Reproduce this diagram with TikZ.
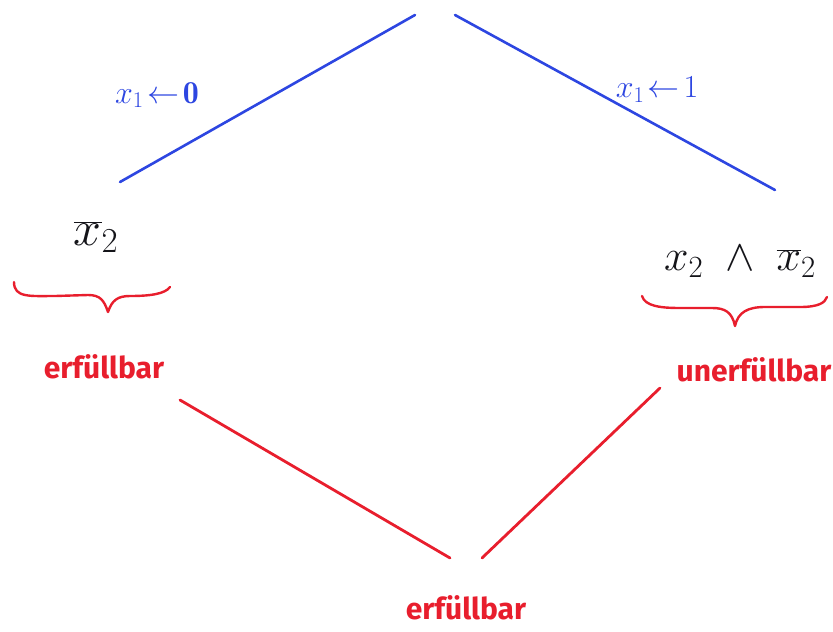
\RequirePackage{fix-cm}
\documentclass[tikz,border=0pt]{standalone}
\usepackage{fontspec}
\setsansfont{Fira Sans}
\usetikzlibrary{calc}
\definecolor{penblue}{RGB}{45,70,225}
\definecolor{penred}{RGB}{232,30,45}
\definecolor{penblack}{RGB}{20,20,25}
\tikzset{
  blueline/.style={draw=penblue,line width=2.6pt,line cap=round},
  redline/.style={draw=penred,line width=2.8pt,line cap=round},
  bracestyle/.style={draw=penred,line width=2.4pt,line cap=round,line join=round},
  formulaL/.style={text=penblack,inner sep=0pt,font=\fontsize{50}{56}\selectfont},
  formulaR/.style={text=penblack,inner sep=0pt,font=\fontsize{44}{50}\selectfont},
  verdict/.style={text=penred,inner sep=0pt,font=\sffamily\bfseries\fontsize{30}{34}\selectfont},
  assign/.style={text=penblue,inner sep=0pt,font=\fontsize{32}{36}\selectfont}
}
\begin{document}
\begin{tikzpicture}[x=1pt,y=-1pt]
\useasboundingbox (0,0) rectangle (833,632);
% root ends
\coordinate (topL) at (415,15);
\coordinate (topR) at (455,15);
\coordinate (leftEnd) at (120,182);
\coordinate (rightEnd) at (775,190);
\draw[blueline] (topL) -- (leftEnd);
\draw[blueline] (topR) -- (rightEnd);
\node[assign] (a0) at (157,95) {$x_1\!\leftarrow\!\mathbf{0}$};
\node[assign] (a1) at (657,90) {$x_1\!\leftarrow\!1$};
% leaves
\node[formulaL] (L) at (96,237) {$\overline{x}_2$};
\node[formulaR] (R) at (740,262) {$x_2\;\wedge\;\overline{x}_2$};
% braces
\coordinate (bl1) at (14,282);
\coordinate (bl2) at (170,287);
\coordinate (blt) at (108,312);
\draw[bracestyle] (bl1) .. controls (14,298) and (30,296) .. (55,296)
  -- (88,295) .. controls (100,295) and (104,300) .. (blt)
  .. controls (112,300) and (118,296) .. (130,296)
  .. controls (150,296) and (165,294) .. (bl2);
\coordinate (br1) at (642,296);
\coordinate (br2) at (827,297);
\coordinate (brt) at (735,326);
\draw[bracestyle] (br1) .. controls (645,306) and (660,308) .. (680,308)
  -- (712,308) .. controls (725,308) and (732,312) .. (brt)
  .. controls (738,312) and (748,307) .. (765,307)
  -- (800,307) .. controls (818,307) and (825,303) .. (br2);
% verdicts
\node[verdict] (Ls) at (104,367) {erfüllbar};
\node[verdict] (Ru) at (754,370) {unerfüllbar};
\node[verdict] (Bs) at (466,608) {erfüllbar};
% lower lines
\coordinate (lowL) at (180,400);
\coordinate (lowR) at (660,388);
\coordinate (botL) at (450,558);
\coordinate (botR) at (482,558);
\draw[redline] (lowL) -- (botL);
\draw[redline] (lowR) -- (botR);
\end{tikzpicture}
\end{document}
